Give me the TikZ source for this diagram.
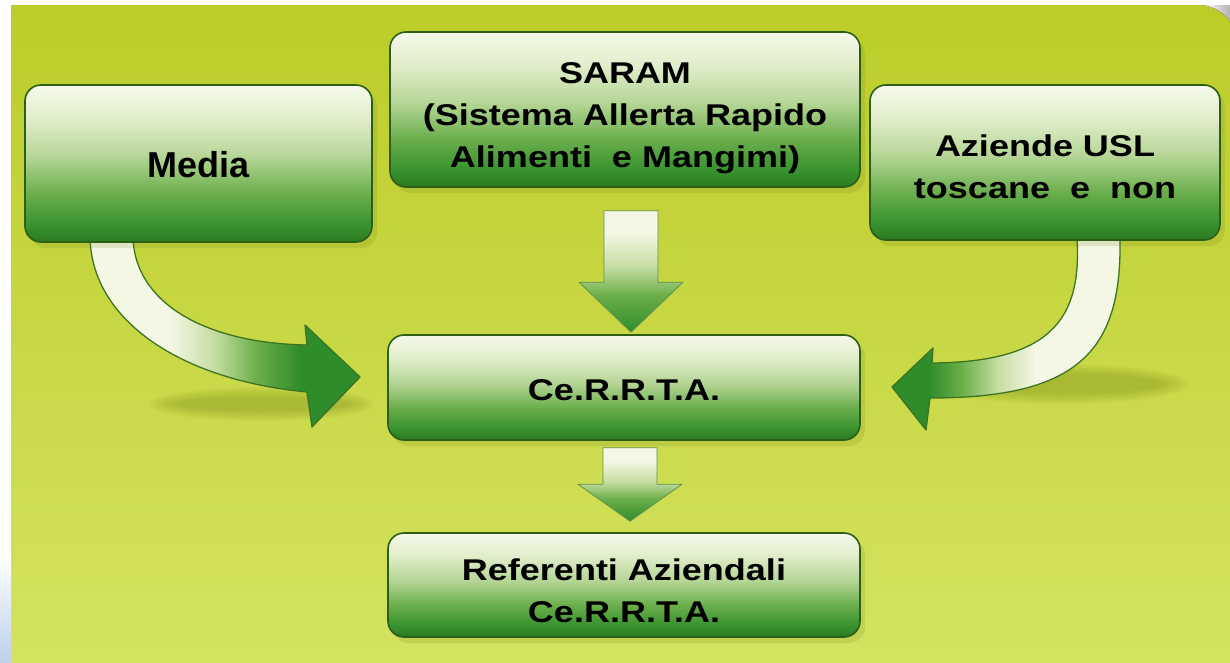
\documentclass[tikz,border=0pt]{standalone}
\usepackage{fontspec}
\newfontfamily\boxfont[FakeStretch=1.2]{Liberation Sans}
\newfontfamily\mediafont{Liberation Sans}
\usetikzlibrary{calc,shadows}
\definecolor{bgtop}{HTML}{BCCC28}
\definecolor{bgbot}{HTML}{D4E360}
\definecolor{leftblue}{HTML}{BFD0EC}
\definecolor{boxline}{HTML}{2C5E16}
\definecolor{b0}{HTML}{F6F9EA}
\definecolor{b1}{HTML}{E0EDCA}
\definecolor{b2}{HTML}{B4D594}
\definecolor{b3}{HTML}{68AD4A}
\definecolor{b4}{HTML}{3A9430}
\definecolor{b5}{HTML}{2B7A20}
\definecolor{c0}{HTML}{F4F7E4}
\definecolor{c1}{HTML}{C6DDA2}
\definecolor{c2}{HTML}{6AAE48}
\definecolor{c3}{HTML}{2E8C2A}
\definecolor{arrline}{HTML}{3C7422}
\definecolor{shadowc}{HTML}{5E6E08}
\pgfdeclareverticalshading{boxsh}{100bp}{color(0bp)=(b5); color(25bp)=(b5); color(31bp)=(b4); color(40bp)=(b3); color(52bp)=(b2); color(64bp)=(b1); color(75bp)=(b0); color(100bp)=(b0)}
\pgfdeclareverticalshading{dnsh}{100bp}{color(0bp)=(c3); color(25bp)=(c3); color(40bp)=(c2); color(52bp)=(c1); color(66bp)=(c0); color(100bp)=(c0)}
\pgfdeclarehorizontalshading{lcurve}{100bp}{color(0bp)=(c0); color(40bp)=(c0); color(48bp)=(c1); color(56bp)=(c2); color(64bp)=(c3); color(100bp)=(c3)}
\pgfdeclarehorizontalshading{rcurve}{100bp}{color(0bp)=(c3); color(33bp)=(c3); color(40bp)=(c2); color(48bp)=(c1); color(56bp)=(c0); color(100bp)=(c0)}
\tikzset{
  box/.style={draw=boxline, line width=1.6pt, rounded corners=16pt, shade, shading=boxsh,
    inner sep=0pt,
    drop shadow={shadow xshift=5pt, shadow yshift=-6pt, opacity=0.14, fill=shadowc}},
  boxtext/.style={inner sep=0pt, align=center, text=black,
    font=\boxfont\bfseries\fontsize{30}{42}\selectfont},
  curvearrow/.style={draw=arrline, line width=1.3pt, line join=round, shade},
  downarrow/.style={draw=arrline!80, line width=0.8pt, line join=round, shade, shading=dnsh},
}
\newcommand\blockdown[3]{%
  \path[downarrow] let \p1=(#1), \p2=(#2) in
    (\x1-27pt,\y1) -- (\x1+27pt,\y1) -- (\x1+27pt,\y2+#3) -- (\x1+52pt,\y2+#3)
    -- (\x1,\y2) -- (\x1-52pt,\y2+#3) -- (\x1-27pt,\y2+#3) -- cycle;}
\begin{document}
\begin{tikzpicture}[x=1pt,y=-1pt]
\useasboundingbox (0,0) rectangle (1230,662);
\fill[white] (0,0) rectangle (1230,662);
\fill[top color=bgtop,bottom color=bgbot] (11,5) rectangle (1230,662);
\fill[top color=white,bottom color=leftblue] (0,555) rectangle (11,662);
\fill[left color=white, right color=gray!60] (1203,5) .. controls (1214,7) and (1224,12) .. (1230,22) -- (1230,5) -- cycle;
% soft shadows under curved arrows
\foreach \k in {0,...,5}{
  \fill[shadowc, opacity=0.05] (262,404) ellipse [x radius={(112-5*\k)*1pt}, y radius={(17-2*\k)*1pt}];
  \fill[shadowc, opacity=0.05] (1060,384) ellipse [x radius={(128-5*\k)*1pt}, y radius={(20-2*\k)*1pt}];
}
% curved arrows
\path[curvearrow, shading=lcurve] (90,238) -- (133,238)
  .. controls (135,300) and (200,343) .. (307,345) -- (305,325) -- (360,377) -- (312,427) -- (307,392)
  .. controls (180,380) and (92,320) .. (90,238) -- cycle;
\path[curvearrow, shading=rcurve] (1120,238)
  .. controls (1122,350) and (1080,398) .. (930,398) -- (926,430) -- (892,387) -- (933,348) -- (932,363)
  .. controls (1050,362) and (1082,320) .. (1077,238) -- cycle;
% boxes
\node[box, minimum width=347pt, minimum height=157pt] (media) at (198.5,163.5) {};
\node[box, minimum width=470pt, minimum height=155pt] (saram) at (625,109.5) {};
\node[box, minimum width=350pt, minimum height=155pt] (usl) at (1045,162.5) {};
\node[box, minimum width=472pt, minimum height=105pt] (cerrta) at (624,387.5) {};
\node[box, minimum width=472pt, minimum height=104pt] (ref) at (624,585) {};
% texts
\node[boxtext, font=\mediafont\bfseries\fontsize{36}{42}\selectfont] (mediat) at ($(media.center)+(0,1)$) {Media};
\node[boxtext] (saramt) at ($(saram.center)+(0,9)$) {SARAM\\(Sistema Allerta Rapido\\Alimenti\ \ e Mangimi)};
\node[boxtext] (uslt) at ($(usl.center)+(0,4)$) {Aziende USL\\toscane\ \ e\ \ non};
\node[boxtext] (cerrtat) at ($(cerrta.center)+(0,2.5)$) {Ce.R.R.T.A.};
\node[boxtext] (reft) at ($(ref.center)+(0,6)$) {Referenti Aziendali\\Ce.R.R.T.A.};
% straight block arrows
\coordinate (d1s) at ($(saram.south)+(6,23)$);
\coordinate (d1e) at ($(cerrta.north)+(6,-2)$);
\coordinate (d2s) at ($(cerrta.south)+(6,7)$);
\coordinate (d2e) at ($(ref.north)+(6,-11)$);
\blockdown{d1s}{d1e}{50pt}
\blockdown{d2s}{d2e}{37pt}
\end{tikzpicture}
\end{document}
